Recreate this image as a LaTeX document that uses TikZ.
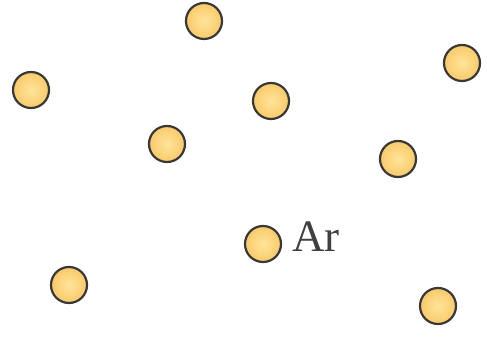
\documentclass[tikz,border=0pt]{standalone}
\usepackage{fontspec}
\setmainfont{Liberation Serif}
\definecolor{atomin}{RGB}{254,228,155}
\definecolor{atomout}{RGB}{250,202,105}
\begin{document}
\begin{tikzpicture}[x=1pt,y=1pt,
  atom/.style={circle,minimum size=36pt,inner sep=0pt,draw=black!78,line width=2.2pt,
    shading=radial,inner color=atomin,outer color=atomout},
  lbl/.style={text=black!75,font=\fontsize{45}{45}\selectfont,inner sep=0pt,anchor=west}]
\useasboundingbox (0,0) rectangle (487,340);
\node[atom] (a1) at (204,319) {};
\node[atom] (a2) at (462,277) {};
\node[atom] (a3) at (31,250) {};
\node[atom] (a4) at (271,239) {};
\node[atom] (a5) at (167,196) {};
\node[atom] (a6) at (398,181) {};
\node[atom] (a7) at (263,96) {};
\node[atom] (a8) at (69,55) {};
\node[atom] (a9) at (438,34) {};
\node[lbl] (ar) at (292,103) {Ar};
\end{tikzpicture}
\end{document}
